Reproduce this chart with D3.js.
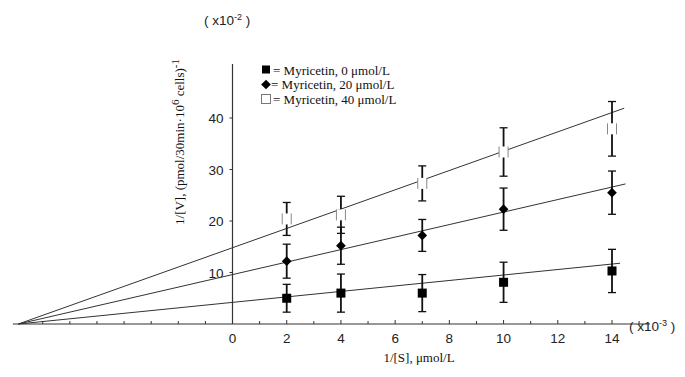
<!DOCTYPE html>
<html>
<head>
<meta charset="utf-8">
<script src="https://cdn.jsdelivr.net/npm/d3@7"></script>
<style>
  body { margin: 0; background: #fff; }
  svg { display: block; }
  .tick-lbl { font-family: "Liberation Sans", Arial, sans-serif; font-size: 13.5px; fill: #222; }
  .serif { font-family: "Liberation Serif", "Times New Roman", serif; font-size: 13px; fill: #111; }
</style>
</head>
<body>
<svg id="chart" width="685" height="377"></svg>
<script>
// substrate concentrations, 1/[S] (x10^-3)
const invS = [2, 4, 7, 10, 14];
// series labels
const seriesNames = ['= Myricetin, 0 \u03bcmol/L', '= Myricetin, 20 \u03bcmol/L', '= Myricetin, 40 \u03bcmol/L'];
// 1/[V] means (x10^-2)
const myr0 = [5.0, 6.0, 6.0, 8.1, 10.3];
const myr20 = [12.2, 15.2, 17.2, 22.3, 25.5];
const myr40 = [20.4, 21.2, 27.3, 33.4, 37.9];
// error bar half widths
const err0 = [2.7, 3.7, 3.6, 3.9, 4.2];
const err20 = [3.3, 3.6, 3.1, 4.1, 4.2];
const err40 = [3.2, 3.6, 3.4, 4.7, 5.3];
// fitted lines: [x start, y start, x end, y end]
const fit0 = [-7.9, 0, 14.3, 11.8];
const fit20 = [-7.9, 0, 14.5, 27.2];
const fit40 = [-7.9, 0, 14.45, 41.9];
// axis ticks
const xLabelTicks = [0, 2, 4, 6, 8, 10, 12, 14];
const xMinorTicks = [-7, -6, -5, -4, -3, -2, -1, 1, 3, 5, 7, 9, 11, 13, 15];
const yTicks = [10, 20, 30, 40];

const svg = d3.select('#chart');

const x = d3.scaleLinear().domain([0, 14]).range([232.5, 612]);
const y = d3.scaleLinear().domain([0, 40]).range([324, 118]);

// x axis line (drawn by hand so it can run into the negative side)
const xAxis = svg.append('g').attr('transform', 'translate(0,' + y(0) + ')');
xAxis.append('line')
  .attr('x1', x(-8.1)).attr('x2', x(15.4))
  .attr('stroke', '#333').attr('stroke-width', 1.2);
xAxis.selectAll('line.major').data(xLabelTicks).join('line')
  .attr('class', 'major')
  .attr('x1', d => x(d)).attr('x2', d => x(d))
  .attr('y1', 0).attr('y2', -4)
  .attr('stroke', '#333');
xAxis.selectAll('line.minor').data(xMinorTicks).join('line')
  .attr('class', 'minor')
  .attr('x1', d => x(d)).attr('x2', d => x(d))
  .attr('y1', 0).attr('y2', -3)
  .attr('stroke', '#333');
xAxis.selectAll('text').data(xLabelTicks).join('text')
  .attr('class', 'tick-lbl')
  .attr('x', d => x(d)).attr('y', 19)
  .attr('text-anchor', 'middle')
  .text(d => d);

// y axis
const yAxis = svg.append('g').attr('transform', 'translate(' + x(0) + ',0)');
yAxis.append('line')
  .attr('y1', y(0)).attr('y2', y(50.5))
  .attr('stroke', '#333').attr('stroke-width', 1.2);
yAxis.selectAll('line.tk').data(yTicks).join('line')
  .attr('class', 'tk')
  .attr('x1', 0).attr('x2', -3)
  .attr('y1', d => y(d)).attr('y2', d => y(d))
  .attr('stroke', '#333');
yAxis.selectAll('text').data(yTicks).join('text')
  .attr('class', 'tick-lbl')
  .attr('x', -9).attr('y', d => y(d) + 5)
  .attr('text-anchor', 'end')
  .text(d => d);

// fitted lines
const fits = [fit0, fit20, fit40];
svg.append('g').selectAll('line').data(fits).join('line')
  .attr('x1', d => x(d[0])).attr('y1', d => y(d[1]))
  .attr('x2', d => x(d[2])).attr('y2', d => y(d[3]))
  .attr('stroke', '#333').attr('stroke-width', 1);

// error bars + markers
const series = [
  { vals: myr0, errs: err0, shape: 'square' },
  { vals: myr20, errs: err20, shape: 'diamond' },
  { vals: myr40, errs: err40, shape: 'open' }
];

series.forEach(s => {
  const g = svg.append('g');
  const pts = invS.map((v, i) => ({ x: v, y: s.vals[i], e: s.errs[i] }));
  g.selectAll('line.bar').data(pts).join('line')
    .attr('x1', d => x(d.x)).attr('x2', d => x(d.x))
    .attr('y1', d => y(d.y - d.e)).attr('y2', d => y(d.y + d.e))
    .attr('stroke', '#111').attr('stroke-width', 1.8);
  [-1, 1].forEach(sign => {
    g.selectAll('line.cap' + sign).data(pts).join('line')
      .attr('x1', d => x(d.x) - 4).attr('x2', d => x(d.x) + 4)
      .attr('y1', d => y(d.y + sign * d.e)).attr('y2', d => y(d.y + sign * d.e))
      .attr('stroke', '#111').attr('stroke-width', 1.3);
  });
  if (s.shape === 'square') {
    g.selectAll('rect').data(pts).join('rect')
      .attr('x', d => x(d.x) - 4.5).attr('y', d => y(d.y) - 4.5)
      .attr('width', 9).attr('height', 9).attr('fill', '#000');
  } else if (s.shape === 'diamond') {
    g.selectAll('path').data(pts).join('path')
      .attr('d', d3.symbol(d3.symbolDiamond2, 60))
      .attr('transform', d => 'translate(' + x(d.x) + ',' + y(d.y) + ')')
      .attr('fill', '#000');
  } else {
    g.selectAll('rect').data(pts).join('rect')
      .attr('x', d => x(d.x) - 4.5).attr('y', d => y(d.y) - 5.5)
      .attr('width', 9).attr('height', 11)
      .attr('fill', '#fff').attr('stroke', '#888').attr('stroke-width', 1)
      .attr('stroke-dasharray', '0,9,11,9,11');
  }
});

// legend
const legendY = [70, 84.5, 99];
const legend = svg.append('g');
legend.append('rect').attr('x', 262).attr('y', legendY[0] - 4.5).attr('width', 8).attr('height', 8).attr('fill', '#000');
legend.append('path').attr('d', d3.symbol(d3.symbolDiamond2, 60))
  .attr('transform', 'translate(266,' + legendY[1] + ')').attr('fill', '#000');
legend.append('rect').attr('x', 261.5).attr('y', legendY[2] - 4.5).attr('width', 9).attr('height', 9)
  .attr('fill', '#fff').attr('stroke', '#777');
legend.selectAll('text').data(seriesNames).join('text')
  .attr('class', 'serif')
  .attr('font-size', 12)
  .attr('x', (d, i) => i === 1 ? 271 : 273)
  .attr('y', (d, i) => legendY[i] + 4.5)
  .text(d => d);

// scale factor notes
const yNote = svg.append('text').attr('class', 'tick-lbl').attr('x', 204).attr('y', 25);
yNote.append('tspan').text('( x10');
yNote.append('tspan').attr('dy', -5).attr('font-size', 9).text('-2');
yNote.append('tspan').attr('dy', 5).text(' )');

const xNote = svg.append('text').attr('class', 'tick-lbl').attr('x', 629).attr('y', 331);
xNote.append('tspan').text('( x10');
xNote.append('tspan').attr('dy', -5).attr('font-size', 9).text('-3');
xNote.append('tspan').attr('dy', 5).text(' )');

// axis titles
svg.append('text').attr('class', 'serif')
  .attr('x', 419).attr('y', 362)
  .attr('text-anchor', 'middle')
  .text('1/[S], \u03bcmol/L');

const yTitle = svg.append('text').attr('class', 'serif')
  .attr('font-size', 16)
  .attr('text-anchor', 'middle')
  .attr('transform', 'translate(184,142) rotate(-90)');
yTitle.append('tspan').text('1/[V], (pmol/30min\u00b710');
yTitle.append('tspan').attr('dy', -5).attr('font-size', 11).text('6');
yTitle.append('tspan').attr('dy', 5).text(' cells)');
yTitle.append('tspan').attr('dy', -5).attr('font-size', 11).text('-1');
</script>
</body>
</html>
